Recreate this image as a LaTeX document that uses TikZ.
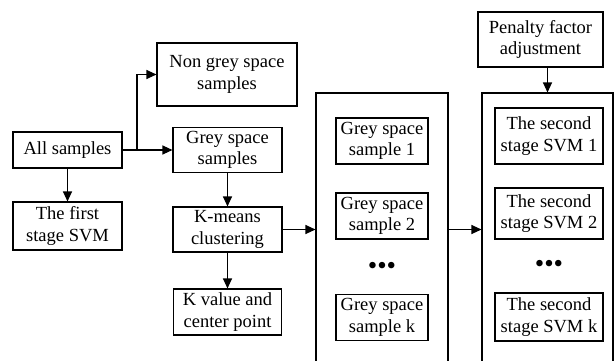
\documentclass[tikz,border=0pt]{standalone}
\usepackage{fontspec}
\setmainfont{Liberation Serif}
\usetikzlibrary{arrows.meta}
\begin{document}
\begin{tikzpicture}[x=1pt,y=-1pt,
  box/.style={draw,line width=1.1pt,align=center,inner sep=0pt,font=\fontsize{18.5}{21.5}\selectfont},
  arr/.style={line width=1.1pt,-{Triangle[length=10pt,width=9pt]}},
  dotsnode/.style={inner sep=0pt,font=\fontsize{27}{27}\selectfont}]
\useasboundingbox (0,0) rectangle (616,360);
\clip (0,0) rectangle (616,360);
\node[box,minimum width=109pt,minimum height=36pt] (all) at (67.5,150) {All samples};
\node[box,minimum width=109pt,minimum height=48pt] (first) at (67.5,226) {The first\\stage SVM};
\node[box,minimum width=140pt,minimum height=63pt] (nongrey) at (227,74.5) {Non grey space\\samples};
\node[box,minimum width=109pt,minimum height=45pt] (grey) at (227.5,150) {Grey space\\samples};
\node[box,minimum width=109pt,minimum height=45pt] (kmeans) at (227.5,229.5) {K-means\\clustering};
\node[box,minimum width=108pt,minimum height=46pt] (kval) at (227.5,312) {K value and\\center point};
\node[box,minimum width=132pt,minimum height=270pt] (big1) at (382,228) {};
\node[box,minimum width=92pt,minimum height=46pt] (s1) at (382,141) {Grey space\\sample 1};
\node[box,minimum width=92pt,minimum height=46pt] (s2) at (382,216) {Grey space\\sample 2};
\node[dotsnode] (d1) at (382,268) {•••};
\node[box,minimum width=92pt,minimum height=46pt] (sk) at (382,317.5) {Grey space\\sample k};
\node[box,minimum width=131pt,minimum height=270pt] (big2) at (547.5,228) {};
\node[box,minimum width=108pt,minimum height=56pt] (v1) at (549,136) {The second\\stage SVM 1};
\node[box,minimum width=108pt,minimum height=51pt] (v2) at (549,213.5) {The second\\stage SVM 2};
\node[dotsnode] (d2) at (549,266) {•••};
\node[box,minimum width=108pt,minimum height=48pt] (vk) at (549,317) {The second\\stage SVM k};
\node[box,minimum width=125pt,minimum height=55pt] (pen) at (540.5,39.5) {Penalty factor\\adjustment};
\coordinate (br) at (137,150);
\draw[arr] (all) -- (first);
\draw[arr] (all.east) -- (grey.west);
\draw[arr] (br) |- (nongrey.west);
\draw[arr] (grey) -- (kmeans);
\draw[arr] (kmeans) -- (kval);
\draw[arr] (kmeans.east) -- (kmeans.east -| big1.west);
\draw[arr] (big1.east |- kmeans.east) -- (big2.west |- kmeans.east);
\draw[arr] (pen.south -| big2.north) -- (big2.north);
\end{tikzpicture}
\end{document}
